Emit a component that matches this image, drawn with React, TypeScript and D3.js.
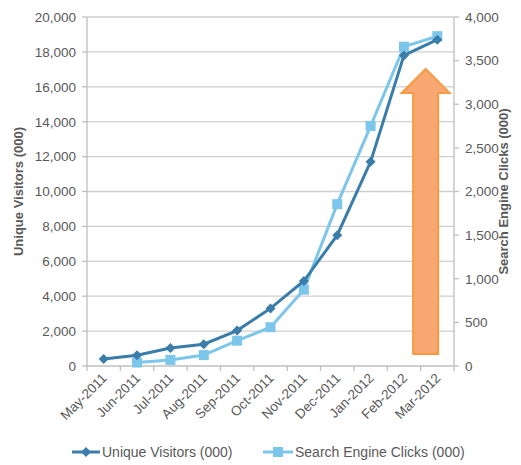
import React from "react";
import * as d3 from "d3";

const months = ["May-2011","Jun-2011","Jul-2011","Aug-2011","Sep-2011","Oct-2011","Nov-2011","Dec-2011","Jan-2012","Feb-2012","Mar-2012"];
const visitors: (number | null)[] = [400, 620, 1030, 1250, 2030, 3300, 4870, 7500, 11700, 17800, 18700];
const clicks: (number | null)[] = [null, 40, 70, 125, 290, 445, 875, 1855, 2750, 3660, 3780];
const leftTicks = [0, 2000, 4000, 6000, 8000, 10000, 12000, 14000, 16000, 18000, 20000];
const rightTicks = [0, 500, 1000, 1500, 2000, 2500, 3000, 3500, 4000];
// annotation arrow (in chart units: category index, right-axis value)
const arrowX = 9.65;
const arrowBottom = 138;
const arrowHeadBase = 3129;
const arrowTip = 3404;

const W = 521, H = 465;
const L = 87, R = 454, T = 17, B = 366;
const DARK = "#3A7DAA";
const LIGHT = "#7CC6EC";
const TXT = "#595959";
const FONT = "'Liberation Sans', Arial, sans-serif";

export default function App() {
  const band = d3.scaleBand<number>().domain(d3.range(months.length)).range([L, R]);
  const xc = (i: number) => (band(Math.floor(i)) as number) + band.bandwidth() * (0.5 + (i - Math.floor(i)));
  const yL = d3.scaleLinear().domain([0, 20000]).range([B, T]);
  const yR = d3.scaleLinear().domain([0, 4000]).range([B, T]);

  const lineV = d3.line<number | null>().defined(d => d != null).x((_, i) => xc(i)).y(d => yL(d as number));
  const lineC = d3.line<number | null>().defined(d => d != null).x((_, i) => xc(i)).y(d => yR(d as number));

  const diamond = (cx: number, cy: number, r = 5) => `M${cx},${cy - r}L${cx + r},${cy}L${cx},${cy + r}L${cx - r},${cy}Z`;

  const ax = xc(arrowX);
  const shaftHalf = 12.5;
  const headHalf = 24;
  const arrowPath = `M${ax - shaftHalf},${yR(arrowBottom)}L${ax - shaftHalf},${yR(arrowHeadBase)}L${ax - headHalf},${yR(arrowHeadBase)}L${ax},${yR(arrowTip)}L${ax + headHalf},${yR(arrowHeadBase)}L${ax + shaftHalf},${yR(arrowHeadBase)}L${ax + shaftHalf},${yR(arrowBottom)}Z`;

  return (
    <svg width={W} height={H} style={{ position: "absolute", left: 0, top: 0, background: "#fff" }} fontFamily={FONT}>
      {/* gridlines */}
      {leftTicks.slice(1).map(t => (
        <line key={"g" + t} x1={L} x2={R} y1={yL(t)} y2={yL(t)} stroke="#CFCFCF" strokeWidth={1.3} />
      ))}
      {/* axes */}
      <line x1={L} x2={L} y1={T} y2={B} stroke="#BFBFBF" strokeWidth={1.3} />
      <line x1={R} x2={R} y1={T} y2={B} stroke="#BFBFBF" strokeWidth={1.3} />
      <line x1={L} x2={R} y1={B} y2={B} stroke="#BFBFBF" strokeWidth={1.3} />
      {leftTicks.map(t => (
        <g key={"l" + t}>
          <line x1={L - 5} x2={L} y1={yL(t)} y2={yL(t)} stroke="#BFBFBF" strokeWidth={1.3} />
          <text x={L - 11} y={yL(t)} dy="0.36em" textAnchor="end" fontSize={13.5} fill={TXT}>{d3.format(",")(t)}</text>
        </g>
      ))}
      {rightTicks.map(t => (
        <g key={"r" + t}>
          <line x1={R} x2={R + 5} y1={yR(t)} y2={yR(t)} stroke="#BFBFBF" strokeWidth={1.3} />
          <text x={R + 11} y={yR(t)} dy="0.36em" textAnchor="start" fontSize={13.5} fill={TXT}>{d3.format(",")(t)}</text>
        </g>
      ))}
      {d3.range(months.length + 1).map(i => (
        <line key={"xt" + i} x1={L + band.step() * i} x2={L + band.step() * i} y1={B} y2={B + 5} stroke="#BFBFBF" strokeWidth={1.3} />
      ))}
      {months.map((m, i) => (
        <text key={m} transform={`translate(${xc(i) + 4},${B + 13}) rotate(-45)`} textAnchor="end" fontSize={13.5} fill={TXT}>{m}</text>
      ))}
      {/* axis titles */}
      <text transform={`translate(23,${(T + B) / 2}) rotate(-90)`} textAnchor="middle" fontSize={13} fontWeight="bold" fill={TXT}>Unique Visitors (000)</text>
      <text transform={`translate(508,${(T + B) / 2}) rotate(-90)`} textAnchor="middle" fontSize={13} fontWeight="bold" fill={TXT}>Search Engine Clicks (000)</text>

      {/* arrow */}
      <path d={arrowPath} fill="#F9A772" stroke="#F59A40" strokeWidth={2} strokeLinejoin="miter" />

      {/* series */}
      <path d={lineC(clicks) || ""} fill="none" stroke={LIGHT} strokeWidth={3} />
      {clicks.map((v, i) => v == null ? null : (
        <rect key={"c" + i} x={xc(i) - 5} y={yR(v) - 5} width={10} height={10} fill={LIGHT} />
      ))}
      <path d={lineV(visitors) || ""} fill="none" stroke={DARK} strokeWidth={3} />
      {visitors.map((v, i) => v == null ? null : (
        <path key={"v" + i} d={diamond(xc(i), yL(v))} fill={DARK} />
      ))}

      {/* legend */}
      <line x1={72} x2={100} y1={452} y2={452} stroke={DARK} strokeWidth={3} />
      <path d={diamond(86, 452)} fill={DARK} />
      <text x={102} y={452} dy="0.36em" fontSize={14} fill={TXT}>Unique Visitors (000)</text>
      <line x1={263} x2={293} y1={452} y2={452} stroke={LIGHT} strokeWidth={3} />
      <rect x={273} y={447} width={10} height={10} fill={LIGHT} />
      <text x={295} y={452} dy="0.36em" fontSize={14} fill={TXT}>Search Engine Clicks (000)</text>
    </svg>
  );
}
